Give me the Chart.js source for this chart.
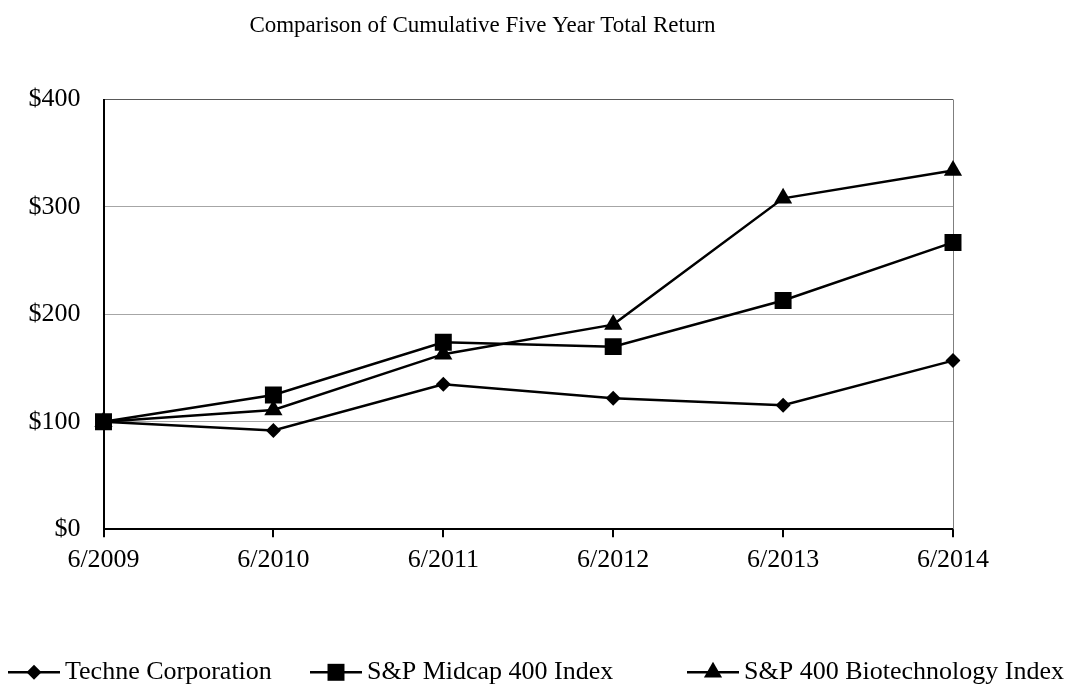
<!DOCTYPE html>
<html><head><meta charset="utf-8">
<script src="https://cdn.jsdelivr.net/npm/chart.js@4/dist/chart.umd.min.js"></script>
<style>html,body{margin:0;padding:0;background:#fff}#wrap{width:1078px;height:684px;position:relative}canvas{display:block}</style>
</head><body><div id="wrap"><canvas id="c" width="1078" height="684"></canvas></div>
<script>
const chartTitle = 'Comparison of Cumulative Five Year Total Return';
const categories = ['6/2009', '6/2010', '6/2011', '6/2012', '6/2013', '6/2014'];
const seriesNames = ['Techne Corporation', 'S&P Midcap 400 Index', 'S&P 400 Biotechnology Index'];
const techne = [100, 92, 135, 122, 115.5, 157];
const midcap = [100, 125, 174, 170, 213, 267];
const biotech = [100, 111, 163, 190.5, 308, 334];
const yTickValues = [0, 100, 200, 300, 400];

const FONT = 'Liberation Serif, Times New Roman, serif';
const markers = [
  {style: 'rectRot', radius: 7.5},
  {style: 'rect', radius: 12},
  {style: 'triangle', radius: 10.5}
];

function drawMarker(ctx, style, r, x, y) {
  ctx.beginPath();
  if (style === 'rectRot') {
    ctx.moveTo(x - r, y); ctx.lineTo(x, y - r); ctx.lineTo(x + r, y); ctx.lineTo(x, y + r);
  } else if (style === 'rect') {
    const s = r * Math.SQRT1_2;
    ctx.rect(x - s, y - s, 2 * s, 2 * s);
  } else {
    let a = 0;
    ctx.moveTo(x + Math.sin(a) * r, y - Math.cos(a) * r);
    a += 2 * Math.PI / 3; ctx.lineTo(x + Math.sin(a) * r, y - Math.cos(a) * r);
    a += 2 * Math.PI / 3; ctx.lineTo(x + Math.sin(a) * r, y - Math.cos(a) * r);
  }
  ctx.closePath();
  ctx.fill();
}

const legendStarts = [8, 310, 687];

const decorPlugin = {
  id: 'decor',
  beforeDatasetsDraw(chart) {
    const {ctx, chartArea} = chart;
    ctx.save();
    ctx.strokeStyle = '#7f7f7f';
    ctx.lineWidth = 1;
    ctx.beginPath();
    ctx.moveTo(chartArea.right + 0.5, chartArea.top);
    ctx.lineTo(chartArea.right + 0.5, chartArea.bottom);
    ctx.stroke();
    ctx.restore();
  },
  afterDraw(chart) {
    const {ctx} = chart;
    ctx.save();
    ctx.fillStyle = '#000';
    ctx.font = '23px ' + FONT;
    ctx.textAlign = 'center';
    ctx.textBaseline = 'alphabetic';
    ctx.fillText(chartTitle, 482.5, 32);
    ctx.font = '26px ' + FONT;
    ctx.textAlign = 'left';
    chart.data.datasets.forEach((ds, i) => {
      const x0 = legendStarts[i];
      const ly = 672.3;
      ctx.strokeStyle = '#000';
      ctx.lineWidth = 2.5;
      ctx.beginPath();
      ctx.moveTo(x0, ly); ctx.lineTo(x0 + 52, ly);
      ctx.stroke();
      drawMarker(ctx, markers[i].style, markers[i].radius, x0 + 26, ly);
      ctx.fillText(ds.label, x0 + 57, 679);
    });
    ctx.restore();
  }
};

const seriesData = [techne, midcap, biotech];
const drawOrder = [1, 0, 2];

new Chart(document.getElementById('c'), {
  type: 'line',
  data: {
    labels: categories,
    datasets: seriesData.map((d, i) => ({
      label: seriesNames[i],
      data: d,
      order: drawOrder[i],
      borderColor: '#000',
      borderWidth: 2.5,
      backgroundColor: '#000',
      pointStyle: markers[i].style,
      pointRadius: markers[i].radius,
      pointBackgroundColor: '#000',
      pointBorderColor: '#000',
      pointBorderWidth: 0,
      tension: 0,
      fill: false
    }))
  },
  options: {
    responsive: false,
    animation: false,
    devicePixelRatio: 1,
    events: [],
    layout: {padding: {left: 0, right: 125, top: 99.5, bottom: 104.7}},
    plugins: {legend: {display: false}, title: {display: false}, tooltip: {enabled: false}},
    scales: {
      x: {
        type: 'category',
        offset: false,
        afterFit: s => { s.height = 50; },
        grid: {drawOnChartArea: false, drawTicks: true, tickLength: 8, tickColor: '#000', color: '#000', lineWidth: 2},
        border: {display: true, color: '#000', width: 2},
        ticks: {color: '#000', font: {family: FONT, size: 26}, padding: 7.5, maxRotation: 0, autoSkip: false}
      },
      y: {
        min: 0, max: 400,
        afterFit: s => { s.width = 103.5; },
        afterBuildTicks: s => { s.ticks = yTickValues.map(v => ({value: v})); },
        grid: {drawTicks: false, lineWidth: 1, color: c => (c.tick && c.tick.value === 400) ? '#595959' : '#a6a6a6'},
        border: {display: true, color: '#000', width: 2},
        ticks: {color: '#000', font: {family: FONT, size: 26}, padding: 23, callback: v => '$' + v}
      }
    }
  },
  plugins: [decorPlugin]
});
</script>
</body></html>
